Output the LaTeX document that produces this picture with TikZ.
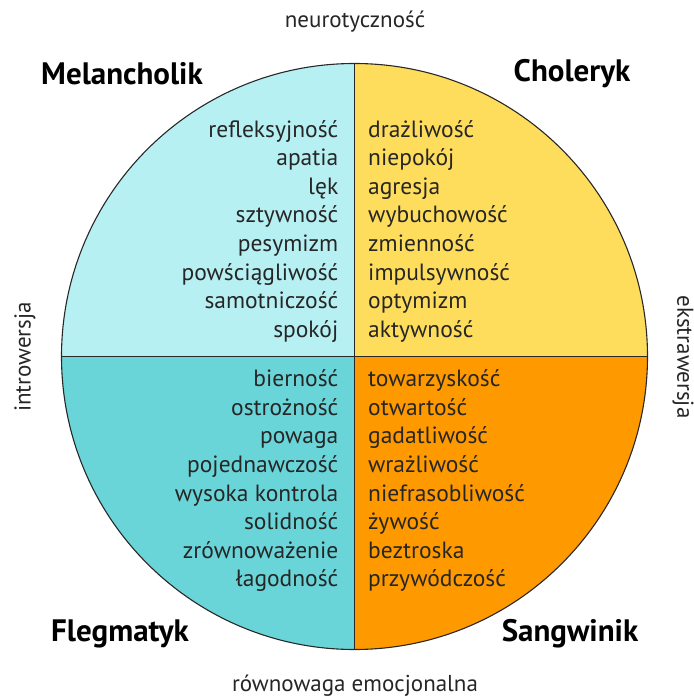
\documentclass[tikz,border=0pt]{standalone}
\usepackage{fontspec}
\setmainfont{PT Sans}
\definecolor{melc}{RGB}{183,240,243}
\definecolor{chol}{RGB}{255,221,92}
\definecolor{fleg}{RGB}{106,213,216}
\definecolor{sang}{RGB}{255,153,0}
\definecolor{edge}{RGB}{40,40,40}
\begin{document}
\begin{tikzpicture}[x=1pt,y=-1pt,
  word/.style={inner sep=0pt,font=\fontsize{23.5}{23.5}\selectfont,text=black!85},
  title/.style={inner sep=0pt,font=\fontsize{31}{31}\selectfont\bfseries},
  axis/.style={inner sep=0pt,font=\fontsize{23}{23}\selectfont,text=black!85}]
\useasboundingbox (0,0) rectangle (693,698);
\coordinate (c) at (354.5,356.5);
\def\R{293}
\fill[melc] (c) -- ++(-\R,0) arc[start angle=180,end angle=270,radius=\R] -- cycle;
\fill[chol] (c) -- ++(0,-\R) arc[start angle=270,end angle=360,radius=\R] -- cycle;
\fill[fleg] (c) -- ++(-\R,0) arc[start angle=180,end angle=90,radius=\R] -- cycle;
\fill[sang] (c) -- ++(\R,0) arc[start angle=0,end angle=90,radius=\R] -- cycle;
\draw[edge,line width=1.1pt] (c) circle[radius=\R];
\draw[edge,line width=1.1pt] ([xshift=-\R]c) -- ([xshift=\R]c);
\draw[edge,line width=1.1pt] ([yshift=-\R]c) -- ([yshift=\R]c);
\foreach \t [count=\i] in {refleksyjność,apatia,lęk,sztywność,pesymizm,powściągliwość,samotniczość,spokój}
  \node[word,anchor=base east] (ml\i) at (338.5,{108.4+28.6*\i}) {\t};
\foreach \t [count=\i] in {drażliwość,niepokój,agresja,wybuchowość,zmienność,impulsywność,optymizm,aktywność}
  \node[word,anchor=base west] (ch\i) at (368,{108.4+28.6*\i}) {\t};
\foreach \t [count=\i] in {bierność,ostrożność,powaga,pojednawczość,wysoka kontrola,solidność,zrównoważenie,łagodność}
  \node[word,anchor=base east] (fl\i) at (338.5,{358.1+28.6*\i}) {\t};
\foreach \t [count=\i] in {towarzyskość,otwartość,gadatliwość,wrażliwość,niefrasobliwość,żywość,beztroska,przywódczość}
  \node[word,anchor=base west] (sa\i) at (368,{358.1+28.6*\i}) {\t};
\node[title] (tm) at (122,74) {Melancholik};
\node[title] (tc) at (572,74) {Choleryk};
\node[title] (tf) at (120,634) {Flegmatyk};
\node[title] (ts) at (570,634) {Sangwinik};
\node[axis] (an) at (355,22) {neurotyczność};
\node[axis] (ar) at (355,686) {równowaga emocjonalna};
\node[axis,rotate=90] (ai) at (25,357) {introwersja};
\node[axis,rotate=-90] (ae) at (683,357) {ekstrawersja};
\end{tikzpicture}
\end{document}
